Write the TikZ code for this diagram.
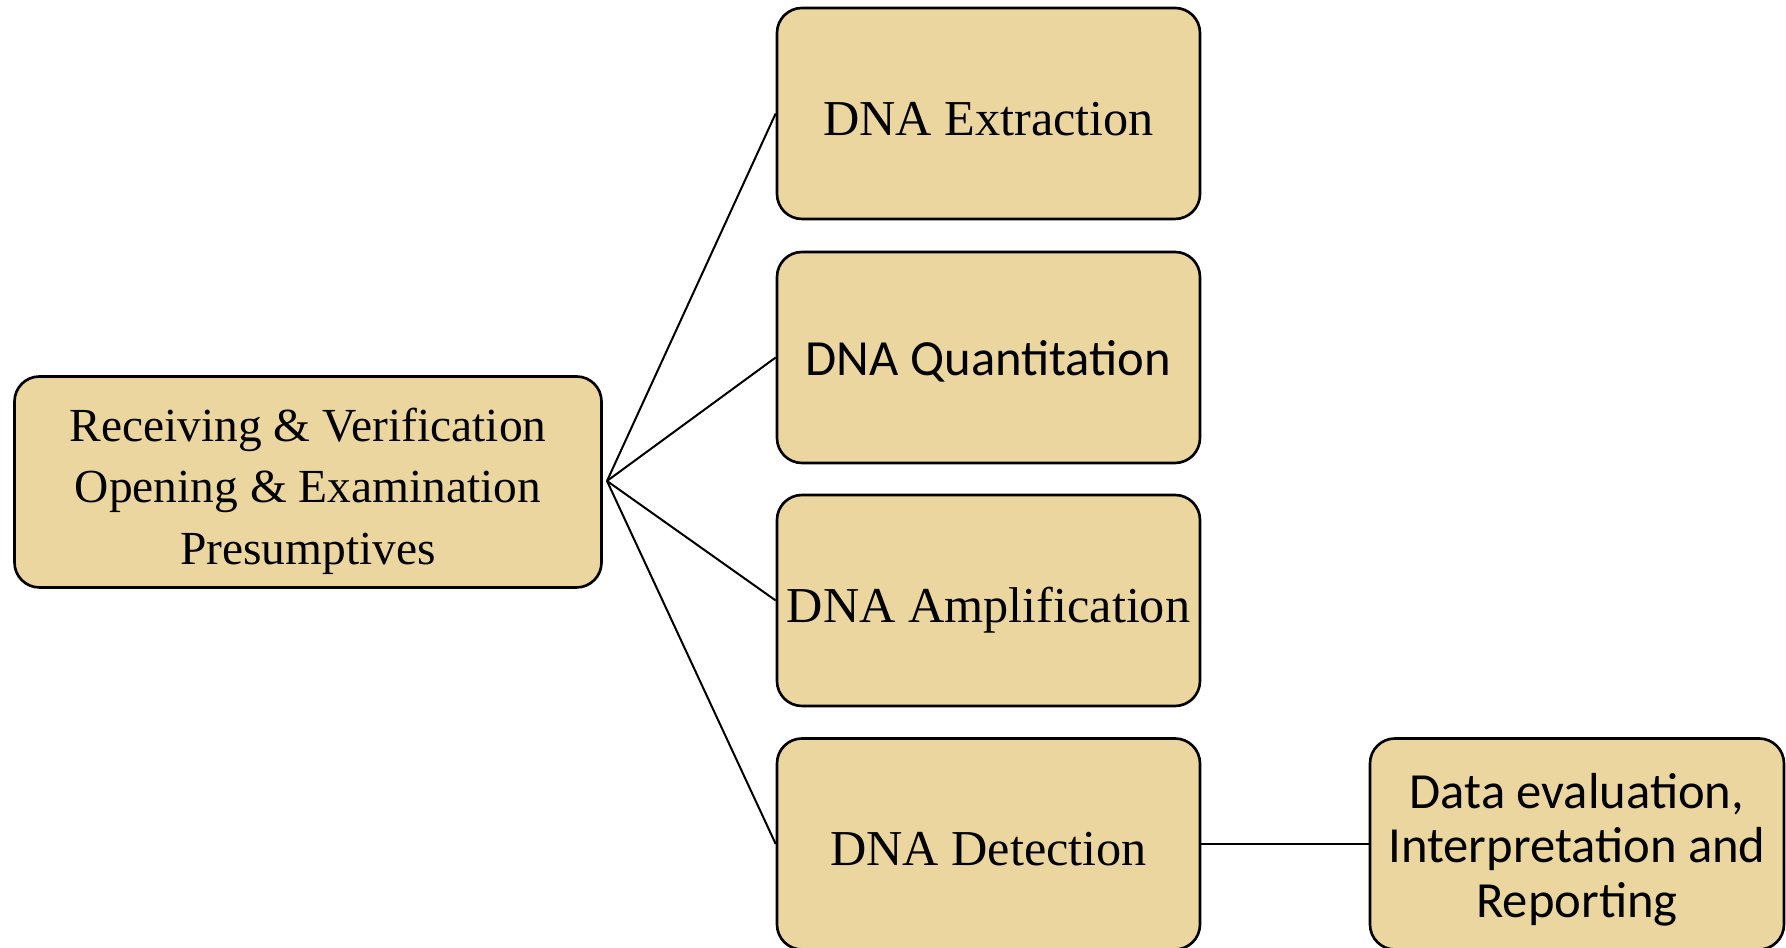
\documentclass[tikz,border=0pt]{standalone}
\usepackage{fontspec}
\setmainfont{Liberation Serif}
\newfontfamily\calfont{Carlito}
\usetikzlibrary{positioning}
\definecolor{papyrus}{RGB}{236,214,160}

\begin{document}
\begin{tikzpicture}[
    stage/.style={rectangle, rounded corners=0.25cm, draw, line width=0.75pt, fill=papyrus,
        minimum width=4.23cm, minimum height=2.11cm, align=center, inner sep=2pt,
        font=\fontsize{14.3}{17.5}\selectfont, text height=15.4pt, text depth=3pt},
    sansstage/.style={stage, font=\calfont\fontsize{14.4}{15.6}\selectfont,
        text height=13pt, text depth=2.9pt},
    multi/.style={text height=, text depth=},
    link/.style={line width=0.57pt}
]
    \useasboundingbox (0,0) rectangle (17.86,9.48);

    % Intake
    \node[stage, multi, minimum width=5.87cm, font=\fontsize{13.5}{17.5}\selectfont] (intake) at (3.08,4.66)
        {\rule{0pt}{14.8pt}Receiving \& Verification\\Opening \& Examination\\Presumptives};
    \coordinate (hub) at (6.07,4.67);

    % Lab stages
    \node[stage] (extraction) at (9.885,8.345) {DNA Extraction};
    \node[sansstage] (quantitation) at (9.885,5.905) {DNA Quantitation};
    \node[stage] (amplification) at (9.885,3.475) {DNA Amplification};
    \node[stage] (detection) at (9.885,1.04) {DNA Detection};

    % Reporting
    \node[sansstage, multi, minimum width=4.14cm] (reporting) at (15.77,1.04)
        {\rule{0pt}{13.2pt}Data evaluation,\\Interpretation and\\Reporting};

    % Links
    \draw[link] (hub) -- (extraction.west);
    \draw[link] (hub) -- (quantitation.west);
    \draw[link] (hub) -- (amplification.west);
    \draw[link] (hub) -- (detection.west);
    \draw[link] (detection) -- (reporting);
\end{tikzpicture}
\end{document}
